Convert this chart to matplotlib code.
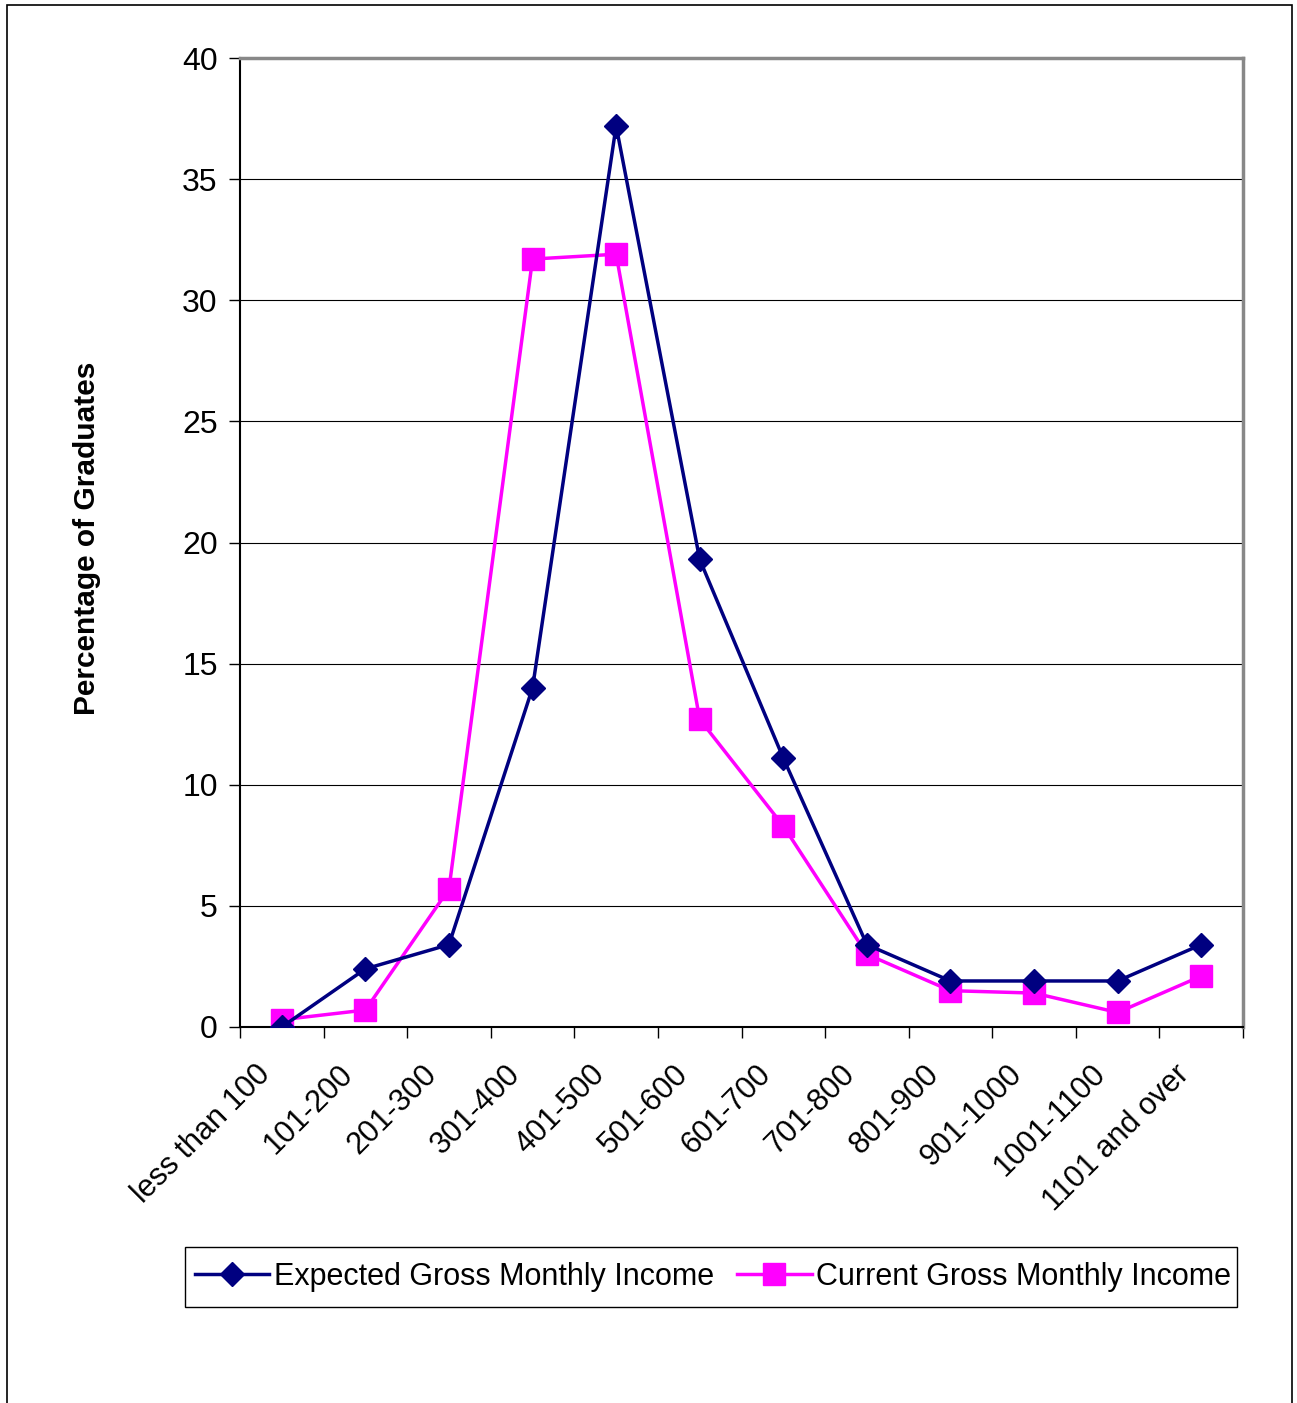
import matplotlib.pyplot as plt
from matplotlib.patches import Rectangle
from matplotlib.ticker import FixedLocator, NullFormatter
from matplotlib.transforms import ScaledTranslation
import numpy as np

# income bands (per month) and share of graduates, %
income_bands = ["less than 100", "101-200", "201-300", "301-400", "401-500",
                "501-600", "601-700", "701-800", "801-900", "901-1000",
                "1001-1100", "1101 and over"]
expected_pct = [0.0, 2.4, 3.4, 14.0, 37.2, 19.3, 11.1, 3.4, 1.9, 1.9, 1.9, 3.4]
current_pct = [0.3, 0.7, 5.7, 31.7, 31.9, 12.7, 8.3, 3.0, 1.5, 1.4, 0.6, 2.1]

NAVY = "#000080"
MAGENTA = "#FF00FF"

plt.rcParams["font.family"] = ["Liberation Sans", "DejaVu Sans"]

W, H = 1297, 1403
fig = plt.figure(figsize=(W / 100, H / 100), dpi=100)

# outer chart frame
fig.patches.append(Rectangle((7 / W, -0.01), (1292 - 7) / W, (H - 5) / H + 0.01,
                             transform=fig.transFigure, fill=False,
                             edgecolor="black", linewidth=1.2))

ax = fig.add_axes([240 / W, 1 - 1027 / H, (1243 - 240) / W, (1027 - 58) / H])

x = np.arange(len(income_bands))
ax.plot(x, expected_pct, color=NAVY, lw=2.5, marker="D", ms=12, zorder=4,
        label="Expected Gross Monthly Income")
ax.plot(x, current_pct, color=MAGENTA, lw=2.5, marker="s", ms=16, zorder=3,
        label="Current Gross Monthly Income")

ax.set_xlim(-0.5, len(income_bands) - 0.5)
ax.set_ylim(0, 40)
ax.set_yticks(range(0, 41, 5))
ax.yaxis.grid(True, color="black", linewidth=0.8)
ax.set_axisbelow(True)

ax.set_xticks(x)
ax.set_xticklabels(income_bands, rotation=45, ha="right", rotation_mode="anchor",
                   fontsize=22)
ax.tick_params(axis="x", which="major", length=0, pad=23)
shift = ScaledTranslation(-27 / 100, 0, fig.dpi_scale_trans)
for lbl in ax.get_xticklabels():
    lbl.set_transform(lbl.get_transform() + shift)
ax.xaxis.set_minor_locator(FixedLocator(np.arange(-0.5, len(income_bands), 1.0)))
ax.xaxis.set_minor_formatter(NullFormatter())
ax.tick_params(axis="x", which="minor", length=8, width=1, direction="out")
ax.tick_params(axis="y", length=8, width=1, direction="out", labelsize=23, pad=8)

for side in ("top", "right"):
    ax.spines[side].set_color("#888888")
    ax.spines[side].set_linewidth(2.5)
for side in ("left", "bottom"):
    ax.spines[side].set_color("black")
    ax.spines[side].set_linewidth(1.5)

fig.text(87 / W, 1 - 538 / H, "Percentage of Graduates", rotation=90,
         ha="center", va="center", fontsize=21.5, fontweight="bold")

# legend box drawn separately, entries placed inside it
fig.patches.append(Rectangle((185 / W, 1 - 1307 / H), (1237 - 185) / W, 60 / H,
                             transform=fig.transFigure, fill=False,
                             edgecolor="black", linewidth=1.0))
fig.legend(loc="center", bbox_to_anchor=(713 / W, 1 - 1277 / H),
           ncol=2, frameon=False,
           handlelength=2.45, handletextpad=0.15, columnspacing=0.75,
           borderpad=0.0, prop={"size": 22})

fig.savefig("out.png", dpi=100)
